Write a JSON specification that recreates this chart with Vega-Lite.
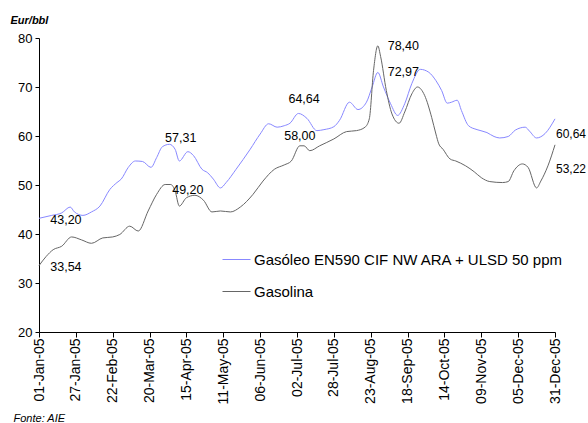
{
  "$schema": "https://vega.github.io/schema/vega-lite/v6.json",
  "width": 516,
  "height": 294,
  "autosize": "none",
  "padding": {"left": 39, "top": 38, "right": 33, "bottom": 91},
  "background": "white",
  "config": {
    "view": {"stroke": null},
    "font": "Liberation Sans",
    "axis": {"labelFont": "Liberation Sans", "titleFont": "Liberation Sans", "labelColor": "black", "domainColor": "black", "tickColor": "black", "grid": false},
    "legend": {"labelFont": "Liberation Sans"}
  },
  "datasets": {
    "prices": [
      {"date": "2005-01-01", "series": "Gasóleo EN590 CIF NW ARA + ULSD 50 ppm", "value": 43.2},
      {"date": "2005-01-10", "series": "Gasóleo EN590 CIF NW ARA + ULSD 50 ppm", "value": 43.8},
      {"date": "2005-01-17", "series": "Gasóleo EN590 CIF NW ARA + ULSD 50 ppm", "value": 44.3},
      {"date": "2005-01-23", "series": "Gasóleo EN590 CIF NW ARA + ULSD 50 ppm", "value": 45.5},
      {"date": "2005-01-26", "series": "Gasóleo EN590 CIF NW ARA + ULSD 50 ppm", "value": 44.5},
      {"date": "2005-02-01", "series": "Gasóleo EN590 CIF NW ARA + ULSD 50 ppm", "value": 43.8},
      {"date": "2005-02-07", "series": "Gasóleo EN590 CIF NW ARA + ULSD 50 ppm", "value": 44.5},
      {"date": "2005-02-13", "series": "Gasóleo EN590 CIF NW ARA + ULSD 50 ppm", "value": 45.7},
      {"date": "2005-02-20", "series": "Gasóleo EN590 CIF NW ARA + ULSD 50 ppm", "value": 49.1},
      {"date": "2005-02-25", "series": "Gasóleo EN590 CIF NW ARA + ULSD 50 ppm", "value": 50.5},
      {"date": "2005-02-28", "series": "Gasóleo EN590 CIF NW ARA + ULSD 50 ppm", "value": 51.2},
      {"date": "2005-03-05", "series": "Gasóleo EN590 CIF NW ARA + ULSD 50 ppm", "value": 53.6},
      {"date": "2005-03-10", "series": "Gasóleo EN590 CIF NW ARA + ULSD 50 ppm", "value": 54.9},
      {"date": "2005-03-15", "series": "Gasóleo EN590 CIF NW ARA + ULSD 50 ppm", "value": 54.8},
      {"date": "2005-03-21", "series": "Gasóleo EN590 CIF NW ARA + ULSD 50 ppm", "value": 53.6},
      {"date": "2005-03-25", "series": "Gasóleo EN590 CIF NW ARA + ULSD 50 ppm", "value": 55.6},
      {"date": "2005-03-29", "series": "Gasóleo EN590 CIF NW ARA + ULSD 50 ppm", "value": 57.8},
      {"date": "2005-04-03", "series": "Gasóleo EN590 CIF NW ARA + ULSD 50 ppm", "value": 58.3},
      {"date": "2005-04-07", "series": "Gasóleo EN590 CIF NW ARA + ULSD 50 ppm", "value": 57.3},
      {"date": "2005-04-10", "series": "Gasóleo EN590 CIF NW ARA + ULSD 50 ppm", "value": 54.9},
      {"date": "2005-04-16", "series": "Gasóleo EN590 CIF NW ARA + ULSD 50 ppm", "value": 56.8},
      {"date": "2005-04-20", "series": "Gasóleo EN590 CIF NW ARA + ULSD 50 ppm", "value": 56.0},
      {"date": "2005-04-26", "series": "Gasóleo EN590 CIF NW ARA + ULSD 50 ppm", "value": 53.2},
      {"date": "2005-04-30", "series": "Gasóleo EN590 CIF NW ARA + ULSD 50 ppm", "value": 52.5},
      {"date": "2005-05-04", "series": "Gasóleo EN590 CIF NW ARA + ULSD 50 ppm", "value": 51.2},
      {"date": "2005-05-09", "series": "Gasóleo EN590 CIF NW ARA + ULSD 50 ppm", "value": 49.4},
      {"date": "2005-05-13", "series": "Gasóleo EN590 CIF NW ARA + ULSD 50 ppm", "value": 50.5},
      {"date": "2005-05-20", "series": "Gasóleo EN590 CIF NW ARA + ULSD 50 ppm", "value": 53.2},
      {"date": "2005-05-30", "series": "Gasóleo EN590 CIF NW ARA + ULSD 50 ppm", "value": 57.3},
      {"date": "2005-06-06", "series": "Gasóleo EN590 CIF NW ARA + ULSD 50 ppm", "value": 60.4},
      {"date": "2005-06-12", "series": "Gasóleo EN590 CIF NW ARA + ULSD 50 ppm", "value": 62.5},
      {"date": "2005-06-18", "series": "Gasóleo EN590 CIF NW ARA + ULSD 50 ppm", "value": 61.8},
      {"date": "2005-06-23", "series": "Gasóleo EN590 CIF NW ARA + ULSD 50 ppm", "value": 62.1},
      {"date": "2005-06-27", "series": "Gasóleo EN590 CIF NW ARA + ULSD 50 ppm", "value": 62.6},
      {"date": "2005-07-03", "series": "Gasóleo EN590 CIF NW ARA + ULSD 50 ppm", "value": 64.6},
      {"date": "2005-07-09", "series": "Gasóleo EN590 CIF NW ARA + ULSD 50 ppm", "value": 63.6},
      {"date": "2005-07-16", "series": "Gasóleo EN590 CIF NW ARA + ULSD 50 ppm", "value": 61.1},
      {"date": "2005-07-21", "series": "Gasóleo EN590 CIF NW ARA + ULSD 50 ppm", "value": 61.3},
      {"date": "2005-07-28", "series": "Gasóleo EN590 CIF NW ARA + ULSD 50 ppm", "value": 61.9},
      {"date": "2005-08-01", "series": "Gasóleo EN590 CIF NW ARA + ULSD 50 ppm", "value": 63.2},
      {"date": "2005-08-08", "series": "Gasóleo EN590 CIF NW ARA + ULSD 50 ppm", "value": 66.9},
      {"date": "2005-08-14", "series": "Gasóleo EN590 CIF NW ARA + ULSD 50 ppm", "value": 65.4},
      {"date": "2005-08-20", "series": "Gasóleo EN590 CIF NW ARA + ULSD 50 ppm", "value": 66.9},
      {"date": "2005-08-24", "series": "Gasóleo EN590 CIF NW ARA + ULSD 50 ppm", "value": 70.0},
      {"date": "2005-08-28", "series": "Gasóleo EN590 CIF NW ARA + ULSD 50 ppm", "value": 72.97},
      {"date": "2005-09-01", "series": "Gasóleo EN590 CIF NW ARA + ULSD 50 ppm", "value": 70.0},
      {"date": "2005-09-06", "series": "Gasóleo EN590 CIF NW ARA + ULSD 50 ppm", "value": 66.6},
      {"date": "2005-09-11", "series": "Gasóleo EN590 CIF NW ARA + ULSD 50 ppm", "value": 64.2},
      {"date": "2005-09-16", "series": "Gasóleo EN590 CIF NW ARA + ULSD 50 ppm", "value": 66.6},
      {"date": "2005-09-21", "series": "Gasóleo EN590 CIF NW ARA + ULSD 50 ppm", "value": 70.7},
      {"date": "2005-09-27", "series": "Gasóleo EN590 CIF NW ARA + ULSD 50 ppm", "value": 73.6},
      {"date": "2005-10-03", "series": "Gasóleo EN590 CIF NW ARA + ULSD 50 ppm", "value": 73.0},
      {"date": "2005-10-08", "series": "Gasóleo EN590 CIF NW ARA + ULSD 50 ppm", "value": 71.3},
      {"date": "2005-10-12", "series": "Gasóleo EN590 CIF NW ARA + ULSD 50 ppm", "value": 69.3},
      {"date": "2005-10-16", "series": "Gasóleo EN590 CIF NW ARA + ULSD 50 ppm", "value": 66.7},
      {"date": "2005-10-19", "series": "Gasóleo EN590 CIF NW ARA + ULSD 50 ppm", "value": 66.9},
      {"date": "2005-10-23", "series": "Gasóleo EN590 CIF NW ARA + ULSD 50 ppm", "value": 67.3},
      {"date": "2005-10-26", "series": "Gasóleo EN590 CIF NW ARA + ULSD 50 ppm", "value": 65.2},
      {"date": "2005-10-31", "series": "Gasóleo EN590 CIF NW ARA + ULSD 50 ppm", "value": 62.1},
      {"date": "2005-11-06", "series": "Gasóleo EN590 CIF NW ARA + ULSD 50 ppm", "value": 61.3},
      {"date": "2005-11-13", "series": "Gasóleo EN590 CIF NW ARA + ULSD 50 ppm", "value": 60.7},
      {"date": "2005-11-18", "series": "Gasóleo EN590 CIF NW ARA + ULSD 50 ppm", "value": 59.9},
      {"date": "2005-11-22", "series": "Gasóleo EN590 CIF NW ARA + ULSD 50 ppm", "value": 59.6},
      {"date": "2005-11-28", "series": "Gasóleo EN590 CIF NW ARA + ULSD 50 ppm", "value": 59.9},
      {"date": "2005-12-03", "series": "Gasóleo EN590 CIF NW ARA + ULSD 50 ppm", "value": 61.2},
      {"date": "2005-12-10", "series": "Gasóleo EN590 CIF NW ARA + ULSD 50 ppm", "value": 61.8},
      {"date": "2005-12-13", "series": "Gasóleo EN590 CIF NW ARA + ULSD 50 ppm", "value": 61.0},
      {"date": "2005-12-18", "series": "Gasóleo EN590 CIF NW ARA + ULSD 50 ppm", "value": 59.6},
      {"date": "2005-12-24", "series": "Gasóleo EN590 CIF NW ARA + ULSD 50 ppm", "value": 60.5},
      {"date": "2005-12-31", "series": "Gasóleo EN590 CIF NW ARA + ULSD 50 ppm", "value": 63.5},
      {"date": "2005-01-01", "series": "Gasolina", "value": 33.54},
      {"date": "2005-01-06", "series": "Gasolina", "value": 35.4},
      {"date": "2005-01-11", "series": "Gasolina", "value": 36.8},
      {"date": "2005-01-17", "series": "Gasolina", "value": 37.5},
      {"date": "2005-01-24", "series": "Gasolina", "value": 39.4},
      {"date": "2005-01-31", "series": "Gasolina", "value": 38.8},
      {"date": "2005-02-07", "series": "Gasolina", "value": 38.1},
      {"date": "2005-02-15", "series": "Gasolina", "value": 39.2},
      {"date": "2005-02-22", "series": "Gasolina", "value": 39.4},
      {"date": "2005-02-27", "series": "Gasolina", "value": 39.9},
      {"date": "2005-03-06", "series": "Gasolina", "value": 41.6},
      {"date": "2005-03-12", "series": "Gasolina", "value": 40.6},
      {"date": "2005-03-19", "series": "Gasolina", "value": 44.7},
      {"date": "2005-03-25", "series": "Gasolina", "value": 48.1},
      {"date": "2005-03-31", "series": "Gasolina", "value": 50.1},
      {"date": "2005-04-04", "series": "Gasolina", "value": 50.1},
      {"date": "2005-04-07", "series": "Gasolina", "value": 48.8},
      {"date": "2005-04-10", "series": "Gasolina", "value": 45.7},
      {"date": "2005-04-15", "series": "Gasolina", "value": 47.4},
      {"date": "2005-04-21", "series": "Gasolina", "value": 47.9},
      {"date": "2005-04-27", "series": "Gasolina", "value": 46.9},
      {"date": "2005-05-03", "series": "Gasolina", "value": 44.5},
      {"date": "2005-05-09", "series": "Gasolina", "value": 44.7},
      {"date": "2005-05-16", "series": "Gasolina", "value": 44.5},
      {"date": "2005-05-23", "series": "Gasolina", "value": 45.5},
      {"date": "2005-06-01", "series": "Gasolina", "value": 48.1},
      {"date": "2005-06-08", "series": "Gasolina", "value": 50.8},
      {"date": "2005-06-16", "series": "Gasolina", "value": 53.2},
      {"date": "2005-06-23", "series": "Gasolina", "value": 54.1},
      {"date": "2005-06-28", "series": "Gasolina", "value": 54.9},
      {"date": "2005-07-04", "series": "Gasolina", "value": 58.0},
      {"date": "2005-07-07", "series": "Gasolina", "value": 58.0},
      {"date": "2005-07-11", "series": "Gasolina", "value": 57.0},
      {"date": "2005-07-18", "series": "Gasolina", "value": 58.0},
      {"date": "2005-07-28", "series": "Gasolina", "value": 59.4},
      {"date": "2005-08-06", "series": "Gasolina", "value": 60.9},
      {"date": "2005-08-13", "series": "Gasolina", "value": 61.1},
      {"date": "2005-08-19", "series": "Gasolina", "value": 61.8},
      {"date": "2005-08-22", "series": "Gasolina", "value": 63.5},
      {"date": "2005-08-25", "series": "Gasolina", "value": 73.4},
      {"date": "2005-08-28", "series": "Gasolina", "value": 78.4},
      {"date": "2005-08-30", "series": "Gasolina", "value": 76.2},
      {"date": "2005-09-03", "series": "Gasolina", "value": 69.3},
      {"date": "2005-09-07", "series": "Gasolina", "value": 64.5},
      {"date": "2005-09-12", "series": "Gasolina", "value": 62.6},
      {"date": "2005-09-16", "series": "Gasolina", "value": 64.9},
      {"date": "2005-09-21", "series": "Gasolina", "value": 68.6},
      {"date": "2005-09-25", "series": "Gasolina", "value": 70.0},
      {"date": "2005-09-30", "series": "Gasolina", "value": 68.3},
      {"date": "2005-10-05", "series": "Gasolina", "value": 63.8},
      {"date": "2005-10-08", "series": "Gasolina", "value": 60.4},
      {"date": "2005-10-10", "series": "Gasolina", "value": 58.4},
      {"date": "2005-10-13", "series": "Gasolina", "value": 57.3},
      {"date": "2005-10-18", "series": "Gasolina", "value": 55.3},
      {"date": "2005-10-22", "series": "Gasolina", "value": 54.9},
      {"date": "2005-10-29", "series": "Gasolina", "value": 53.9},
      {"date": "2005-11-04", "series": "Gasolina", "value": 52.7},
      {"date": "2005-11-09", "series": "Gasolina", "value": 51.5},
      {"date": "2005-11-15", "series": "Gasolina", "value": 50.7},
      {"date": "2005-11-24", "series": "Gasolina", "value": 50.5},
      {"date": "2005-11-28", "series": "Gasolina", "value": 50.7},
      {"date": "2005-12-02", "series": "Gasolina", "value": 52.9},
      {"date": "2005-12-08", "series": "Gasolina", "value": 54.3},
      {"date": "2005-12-12", "series": "Gasolina", "value": 53.6},
      {"date": "2005-12-18", "series": "Gasolina", "value": 49.4},
      {"date": "2005-12-21", "series": "Gasolina", "value": 50.8},
      {"date": "2005-12-26", "series": "Gasolina", "value": 53.9},
      {"date": "2005-12-31", "series": "Gasolina", "value": 58.2}
    ],
    "labels": [
      {"date": "2005-01-20", "value": 42.8, "label": "43,20"},
      {"date": "2005-01-20", "value": 33.2, "label": "33,54"},
      {"date": "2005-04-11", "value": 59.6, "label": "57,31"},
      {"date": "2005-04-16", "value": 49.0, "label": "49,20"},
      {"date": "2005-07-07", "value": 67.6, "label": "64,64"},
      {"date": "2005-07-04", "value": 59.9, "label": "58,00"},
      {"date": "2005-09-15", "value": 78.4, "label": "78,40"},
      {"date": "2005-09-15", "value": 73.1, "label": "72,97"}
    ],
    "endLabels": [
      {"date": "2005-12-31", "value": 60.5, "label": "60,64"},
      {"date": "2005-12-31", "value": 53.2, "label": "53,22"}
    ]
  },
  "encoding": {
    "x": {
      "field": "date",
      "type": "temporal",
      "scale": {"type": "utc", "domain": [1104537600000, 1135987200000], "nice": false},
      "axis": {
        "values": [1104537600000, 1106784000000, 1109030400000, 1111276800000, 1113523200000, 1115769600000, 1118016000000, 1120262400000, 1122508800000, 1124755200000, 1127001600000, 1129248000000, 1131494400000, 1133740800000, 1135987200000],
        "format": "%d-%b-%y",
        "labelAngle": -90,
        "labelAlign": "right",
        "labelBaseline": "middle",
        "labelFontSize": 14,
        "labelPadding": 1,
        "tickSize": 5,
        "labelOverlap": false,
        "labelBound": false,
        "labelFlush": false,
        "title": "Fonte: AIE",
        "titleFontSize": 11,
        "titleFontStyle": "italic",
        "titleFontWeight": "normal",
        "titleAnchor": "start",
        "titleAlign": "left",
        "titleBaseline": "middle",
        "titleX": -26,
        "titleY": 86
      }
    },
    "y": {
      "field": "value",
      "type": "quantitative",
      "scale": {"domain": [20, 80], "nice": false, "zero": false},
      "axis": {
        "values": [20, 30, 40, 50, 60, 70, 80],
        "labelFontSize": 13,
        "labelPadding": 3,
        "tickSize": 4,
        "title": "Eur/bbl",
        "titleAngle": 0,
        "titleFontSize": 11,
        "titleFontStyle": "italic",
        "titleFontWeight": "bold",
        "titleAlign": "left",
        "titleBaseline": "middle",
        "titleX": -29,
        "titleY": -18
      }
    }
  },
  "layer": [
    {
      "data": {"name": "prices"},
      "mark": {"type": "line", "interpolate": "monotone", "strokeWidth": 1},
      "encoding": {
        "color": {
          "field": "series",
          "type": "nominal",
          "scale": {"domain": ["Gasóleo EN590 CIF NW ARA + ULSD 50 ppm", "Gasolina"], "range": ["#8888ff", "#666666"]},
          "legend": {
            "title": null,
            "orient": "none",
            "legendX": 183,
            "legendY": 207,
            "symbolType": "stroke",
            "symbolSize": 784,
            "symbolStrokeWidth": 1,
            "labelFontSize": 15,
            "labelColor": "black",
            "labelOffset": 3,
            "rowPadding": 9,
            "labelLimit": 400
          }
        }
      }
    },
    {
      "data": {"name": "labels"},
      "mark": {"type": "text", "align": "center", "baseline": "middle", "fontSize": 12.5, "color": "black"},
      "encoding": {"text": {"field": "label"}}
    },
    {
      "data": {"name": "endLabels"},
      "mark": {"type": "text", "align": "left", "baseline": "middle", "dx": 1, "fontSize": 12, "color": "black"},
      "encoding": {"text": {"field": "label"}}
    }
  ]
}
